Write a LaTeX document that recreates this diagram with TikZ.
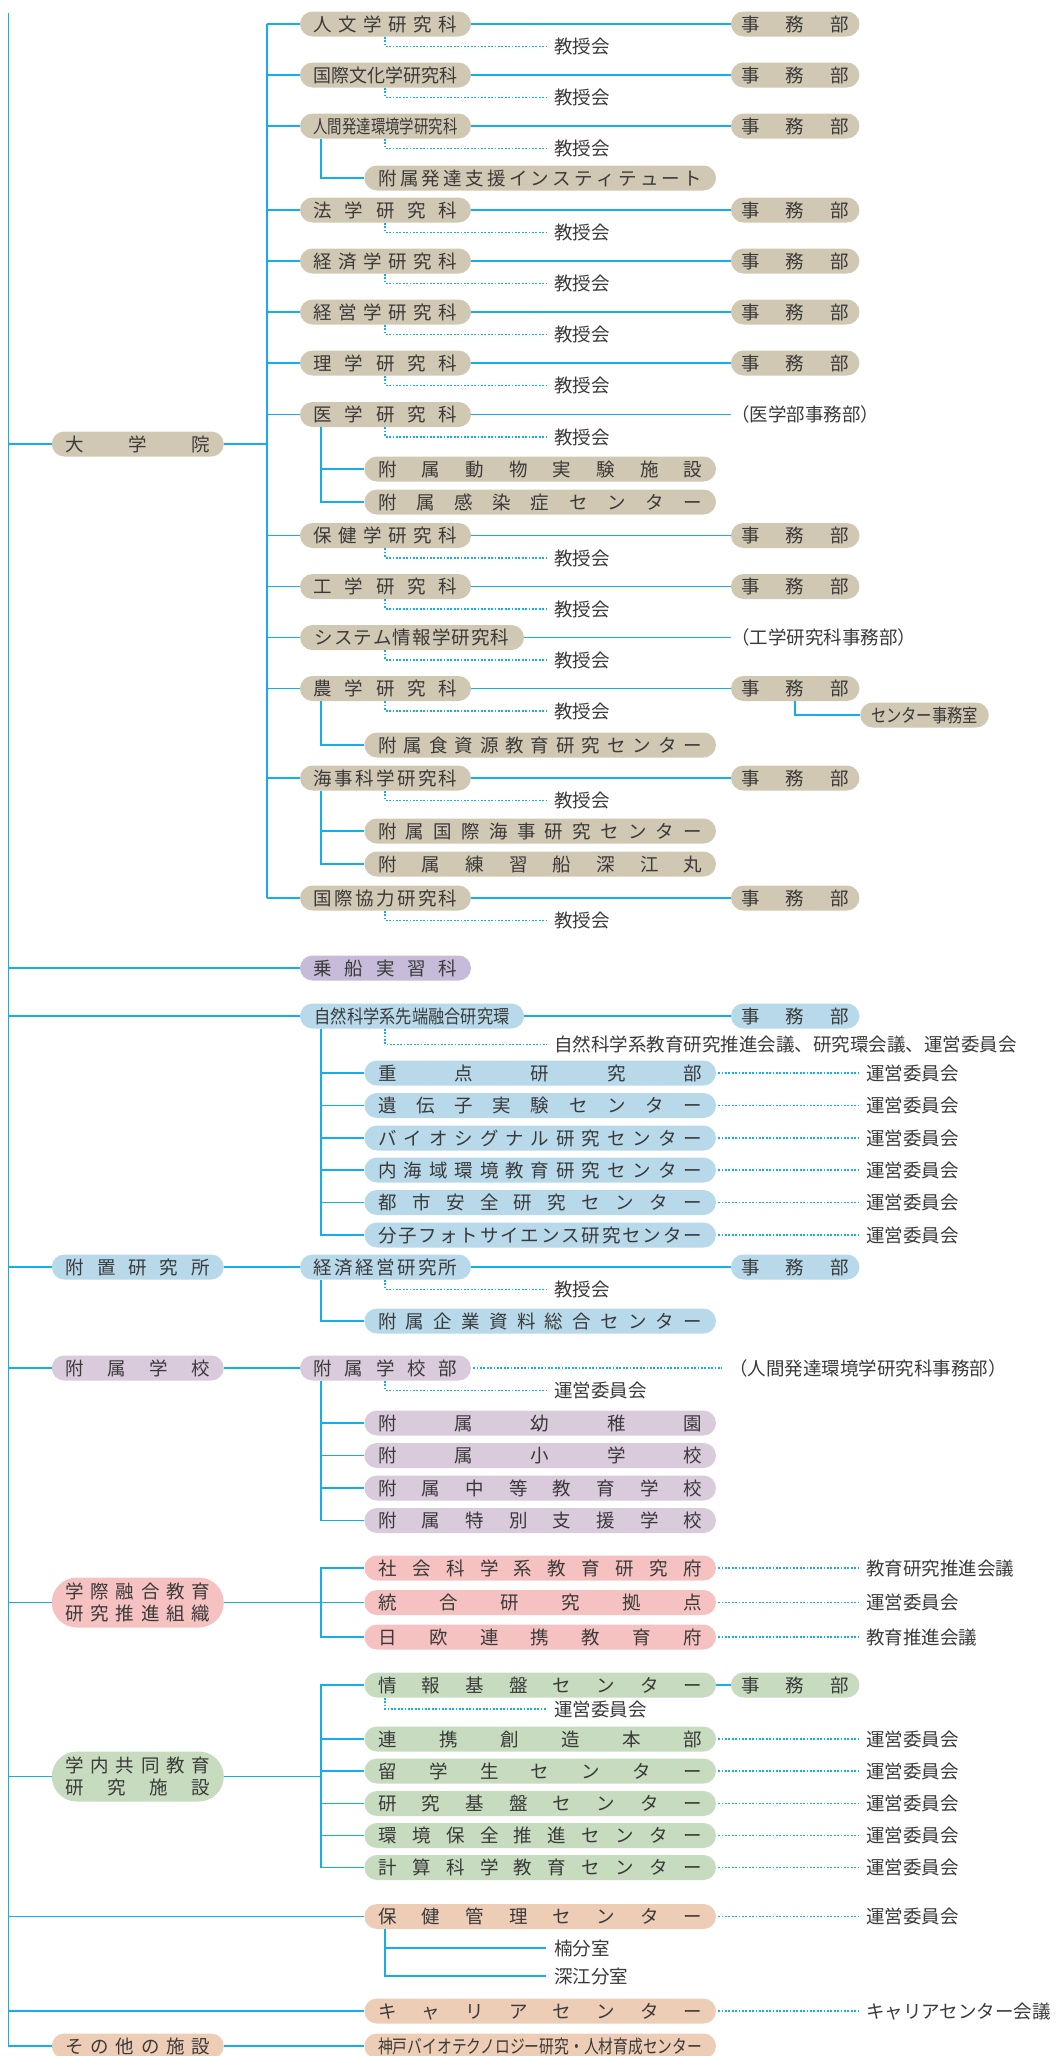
\documentclass[tikz,border=0pt]{standalone}
\usepackage{fontspec}
\setmainfont{Noto Sans CJK JP}
\usepackage{graphicx}
\usetikzlibrary{calc}
\definecolor{lnc}{HTML}{14AEEB}
\definecolor{txc}{HTML}{3A3A3A}
\definecolor{ctan}{HTML}{D1C8B3}
\definecolor{clav}{HTML}{C6BBD8}
\definecolor{cblu}{HTML}{B8D9EA}
\definecolor{cmau}{HTML}{D9CADC}
\definecolor{cpnk}{HTML}{F6C1C1}
\definecolor{cgrn}{HTML}{C7DBBF}
\definecolor{cpch}{HTML}{EECDB6}
\newcommand\fsz{\fontsize{18.5}{22}\selectfont}
\ExplSyntaxOn
\box_new:N \l__jp_box
\bool_new:N \l__jp_first_bool
\cs_new_protected:Npn \__jp_spread:n #1
  {
    \bool_set_true:N \l__jp_first_bool
    \tl_map_inline:nn {#1}
      {
        \bool_if:NTF \l__jp_first_bool
          { \bool_set_false:N \l__jp_first_bool }
          { \hfil }
        ##1
      }
  }
\NewDocumentCommand \fitt { m m }
  {
    \hbox_set:Nn \l__jp_box {#2}
    \dim_compare:nNnTF { \box_wd:N \l__jp_box } > {#1}
      { \resizebox{#1}{\height}{#2} }
      { \hbox_to_wd:nn {#1} { \__jp_spread:n {#2} } }
  }
\ExplSyntaxOff
\newcommand\twol[2]{\vbox{\baselineskip=22pt\lineskiplimit=-100pt\hbox{\rule{0pt}{14.8pt}\fitt{144pt}{#1}}\hbox{\fitt{144pt}{#2}\rule[-0.7pt]{0pt}{0.7pt}}}}
\tikzset{
 pill/.style={rectangle, rounded corners=12.5pt, minimum height=25pt, inner sep=0pt, text=txc, font=\fsz, text height=14.8pt, text depth=0.7pt},
 lone/.style={pill, minimum width=172pt},
 ltwo/.style={pill, minimum width=171pt},
 ltwow/.style={pill, minimum width=224pt},
 lwide/.style={pill, minimum width=351.6pt},
 ljm/.style={pill, minimum width=128.5pt},
 ldbl/.style={rectangle, rounded corners=25pt, minimum height=50pt, minimum width=172pt, inner sep=0pt, text=txc, font=\fsz},
 txtlab/.style={anchor=west, inner sep=0pt, text=txc, font=\fsz, text height=14.8pt, text depth=0.7pt},
 solidln/.style={draw=lnc, line width=1.7pt},
 dotln/.style={draw=lnc, line width=1.7pt, dash pattern=on 1.8pt off 1.6pt},
}
\newcommand\kyo[2]{%
 \node[txtlab] (#1k) at (554,{#2+22.5}) {教授会};
 \draw[dotln] ($(#1.south west)+(85.5,0)$) |- ($(#1k.west)+(-7,0)$);}
\newcommand\rowJ[3]{%
 \node[ltwo, fill=ctan] (#1) at (385.5,#2) {\fitt{144pt}{#3}};
 \node[ljm, fill=ctan] (#1j) at (795.2,#2) {\fitt{107pt}{事務部}};
 \draw[solidln] (#1.east) -- (#1j.west);
 \draw[solidln] (#1.west -| gv) -- (#1.west);
 \kyo{#1}{#2}}
\newcommand\subn[5]{%
 \node[lwide, fill=#5] (#1) at (540.2,#3) {\fitt{324pt}{#4}};
 \draw[solidln] ($(#2.south west)+(21,0)$) |- (#1.west);}
\newcommand\gsub[5]{%
 \node[lwide, fill=#5] (#1) at (540.2,#3) {\fitt{324pt}{#4}};
 \draw[solidln] (#2.east -| gx) |- (#1.west);}
\newcommand\rlab[3]{%
 \node[txtlab] (#1) at (#2.east -| rx) {#3};
 \draw[dotln] ($(#2.east)+(2,0)$) -- ($(#1.west)+(-7,0)$);}
\begin{document}
\begin{tikzpicture}[x=1pt,y=-1pt]
\useasboundingbox (0,0) rectangle (1057,2056);
\coordinate (mtop) at (8.5,12.5);
\coordinate (gv) at (267,0);
\coordinate (gx) at (321,0);
\coordinate (rx) at (866,0);
% ---------- graduate schools
\node[lone, fill=ctan] (dai) at (137.8,444) {\fitt{144pt}{大学院}};
\draw[solidln] (dai.west -| mtop) -- (dai.west);
\rowJ{jin}{24}{人文学研究科}
\rowJ{kbk}{75}{国際文化学研究科}
\rowJ{nhk}{126}{人間発達環境学研究科}
\subn{nhks}{nhk}{178}{附属発達支援インスティテュート}{ctan}
\rowJ{hog}{210}{法学研究科}
\rowJ{kez}{261}{経済学研究科}
\rowJ{kei}{312}{経営学研究科}
\rowJ{rig}{363}{理学研究科}
\node[ltwo, fill=ctan] (igk) at (385.5,414.5) {\fitt{144pt}{医学研究科}};
\kyo{igk}{414.5}
\node[txtlab] (igj) at (731,414.5) {（医学部事務部）};
\draw[solidln] (igk.east) -- (igj.west);
\draw[solidln] (igk.west -| gv) -- (igk.west);
\subn{igs1}{igk}{469}{附属動物実験施設}{ctan}
\subn{igs2}{igk}{502}{附属感染症センター}{ctan}
\rowJ{hok}{535.5}{保健学研究科}
\rowJ{kog}{586.5}{工学研究科}
\node[ltwow, fill=ctan] (sys) at (412,637.5) {\fitt{195pt}{システム情報学研究科}};
\kyo{sys}{637.5}
\node[txtlab] (sysj) at (731,637.5) {（工学研究科事務部）};
\draw[solidln] (sys.east) -- (sysj.west);
\draw[solidln] (sys.west -| gv) -- (sys.west);
\rowJ{nog}{688.5}{農学研究科}
\node[ljm, fill=ctan] (ctj) at (924.5,715) {\fitt{107pt}{センター事務室}};
\draw[solidln] (nogj.south) |- (ctj.west);
\subn{nogs}{nog}{745}{附属食資源教育研究センター}{ctan}
\rowJ{kaj}{778}{海事科学研究科}
\subn{kajs1}{kaj}{831}{附属国際海事研究センター}{ctan}
\subn{kajs2}{kaj}{864}{附属練習船深江丸}{ctan}
\rowJ{kky}{898}{国際協力研究科}
\draw[solidln] (jin.west -| gv) -- (kky.west -| gv);
\draw[solidln] (dai.east) -- (dai.east -| gv);
% ---------- 乗船実習科
\node[ltwo, fill=clav] (jos) at (385.5,968) {\fitt{144pt}{乗船実習科}};
\draw[solidln] (jos.west -| mtop) -- (jos.west);
% ---------- 自然科学系先端融合研究環
\node[ltwow, fill=cblu] (shz) at (412,1016) {\fitt{195pt}{自然科学系先端融合研究環}};
\node[ljm, fill=cblu] (shzj) at (795.2,1016) {\fitt{107pt}{事務部}};
\draw[solidln] (shz.east) -- (shzj.west);
\draw[solidln] (shz.west -| mtop) -- (shz.west);
\node[txtlab] (shzk) at (554,1044.5) {自然科学系教育研究推進会議、研究環会議、運営委員会};
\draw[dotln] ($(shz.south west)+(85.5,0)$) |- ($(shzk.west)+(-7,0)$);
\subn{sz1}{shz}{1073}{重点研究部}{cblu}\rlab{sz1r}{sz1}{運営委員会}
\subn{sz2}{shz}{1105.5}{遺伝子実験センター}{cblu}\rlab{sz2r}{sz2}{運営委員会}
\subn{sz3}{shz}{1138}{バイオシグナル研究センター}{cblu}\rlab{sz3r}{sz3}{運営委員会}
\subn{sz4}{shz}{1170}{内海域環境教育研究センター}{cblu}\rlab{sz4r}{sz4}{運営委員会}
\subn{sz5}{shz}{1202.5}{都市安全研究センター}{cblu}\rlab{sz5r}{sz5}{運営委員会}
\subn{sz6}{shz}{1235}{分子フォトサイエンス研究センター}{cblu}\rlab{sz6r}{sz6}{運営委員会}
% ---------- 附置研究所
\node[lone, fill=cblu] (fuchi) at (137.8,1267) {\fitt{144pt}{附置研究所}};
\node[ltwo, fill=cblu] (rieb) at (385.5,1267) {\fitt{144pt}{経済経営研究所}};
\node[ljm, fill=cblu] (riebj) at (795.2,1267) {\fitt{107pt}{事務部}};
\draw[solidln] (fuchi.west -| mtop) -- (fuchi.west);
\draw[solidln] (fuchi.east) -- (rieb.west);
\draw[solidln] (rieb.east) -- (riebj.west);
\kyo{rieb}{1267}
\subn{riebs}{rieb}{1321}{附属企業資料総合センター}{cblu}
% ---------- 附属学校
\node[lone, fill=cmau] (fzk) at (137.8,1368) {\fitt{144pt}{附属学校}};
\node[ltwo, fill=cmau] (fzb) at (385.5,1368) {\fitt{144pt}{附属学校部}};
\draw[solidln] (fzk.west -| mtop) -- (fzk.west);
\draw[solidln] (fzk.east) -- (fzb.west);
\node[txtlab] (fzj) at (729,1368) {（人間発達環境学研究科事務部）};
\draw[dotln] ($(fzb.east)+(2,0)$) -- ($(fzj.west)+(-7,0)$);
\node[txtlab] (fzbk) at (554,1390.5) {運営委員会};
\draw[dotln] ($(fzb.south west)+(85.5,0)$) |- ($(fzbk.west)+(-7,0)$);
\subn{fz1}{fzb}{1423}{附属幼稚園}{cmau}
\subn{fz2}{fzb}{1455.5}{附属小学校}{cmau}
\subn{fz3}{fzb}{1488}{附属中等教育学校}{cmau}
\subn{fz4}{fzb}{1520.5}{附属特別支援学校}{cmau}
% ---------- 学際融合教育研究推進組織
\node[ldbl, fill=cpnk] (gks) at (137.8,1602.5) {\twol{学際融合教育}{研究推進組織}};
\draw[solidln] (gks.west -| mtop) -- (gks.west);
\draw[solidln] (gks.east) -- (gks.east -| gx);
\gsub{gk1}{gks}{1568}{社会科学系教育研究府}{cpnk}\rlab{gk1r}{gk1}{教育研究推進会議}
\gsub{gk2}{gks}{1602.5}{統合研究拠点}{cpnk}\rlab{gk2r}{gk2}{運営委員会}
\gsub{gk3}{gks}{1637}{日欧連携教育府}{cpnk}\rlab{gk3r}{gk3}{教育推進会議}
% ---------- 学内共同教育研究施設
\node[ldbl, fill=cgrn] (gkn) at (137.8,1776.5) {\twol{学内共同教育}{研究施設}};
\draw[solidln] (gkn.west -| mtop) -- (gkn.west);
\draw[solidln] (gkn.east) -- (gkn.east -| gx);
\gsub{gn1}{gkn}{1685}{情報基盤センター}{cgrn}
\node[ljm, fill=cgrn] (gn1j) at (795.2,1685) {\fitt{107pt}{事務部}};
\draw[solidln] (gn1.east) -- (gn1j.west);
\node[txtlab] (gn1k) at (554,1709) {運営委員会};
\draw[dotln] ($(gn1.south west)+(21,0)$) |- ($(gn1k.west)+(-7,0)$);
\gsub{gn2}{gkn}{1739}{連携創造本部}{cgrn}\rlab{gn2r}{gn2}{運営委員会}
\gsub{gn3}{gkn}{1771}{留学生センター}{cgrn}\rlab{gn3r}{gn3}{運営委員会}
\gsub{gn4}{gkn}{1803.5}{研究基盤センター}{cgrn}\rlab{gn4r}{gn4}{運営委員会}
\gsub{gn5}{gkn}{1835.5}{環境保全推進センター}{cgrn}\rlab{gn5r}{gn5}{運営委員会}
\gsub{gn6}{gkn}{1867.5}{計算科学教育センター}{cgrn}\rlab{gn6r}{gn6}{運営委員会}
% ---------- 保健管理センター etc.
\node[lwide, fill=cpch] (hkc) at (540.2,1916.5) {\fitt{324pt}{保健管理センター}};
\draw[solidln] (hkc.west -| mtop) -- (hkc.west);
\rlab{hkcr}{hkc}{運営委員会}
\node[txtlab] (kusu) at (554,1948) {楠分室};
\node[txtlab] (fuka) at (554,1976) {深江分室};
\draw[solidln] ($(hkc.south west)+(21,0)$) |- ($(kusu.west)+(-8,0)$);
\draw[solidln] ($(hkc.south west)+(21,0)$) |- ($(fuka.west)+(-8,0)$);
\node[lwide, fill=cpch] (car) at (540.2,2011) {\fitt{324pt}{キャリアセンター}};
\draw[solidln] (car.west -| mtop) -- (car.west);
\rlab{carr}{car}{キャリアセンター会議}
\node[lone, fill=cpch] (sono) at (137.8,2046) {\fitt{144pt}{その他の施設}};
\node[lwide, fill=cpch] (kbt) at (540.2,2046) {\fitt{324pt}{神戸バイオテクノロジー研究・人材育成センター}};
\draw[solidln] (sono.east) -- (kbt.west);
\draw[solidln] (mtop) -- (sono.west -| mtop) -- (sono.west);
\end{tikzpicture}
\end{document}
